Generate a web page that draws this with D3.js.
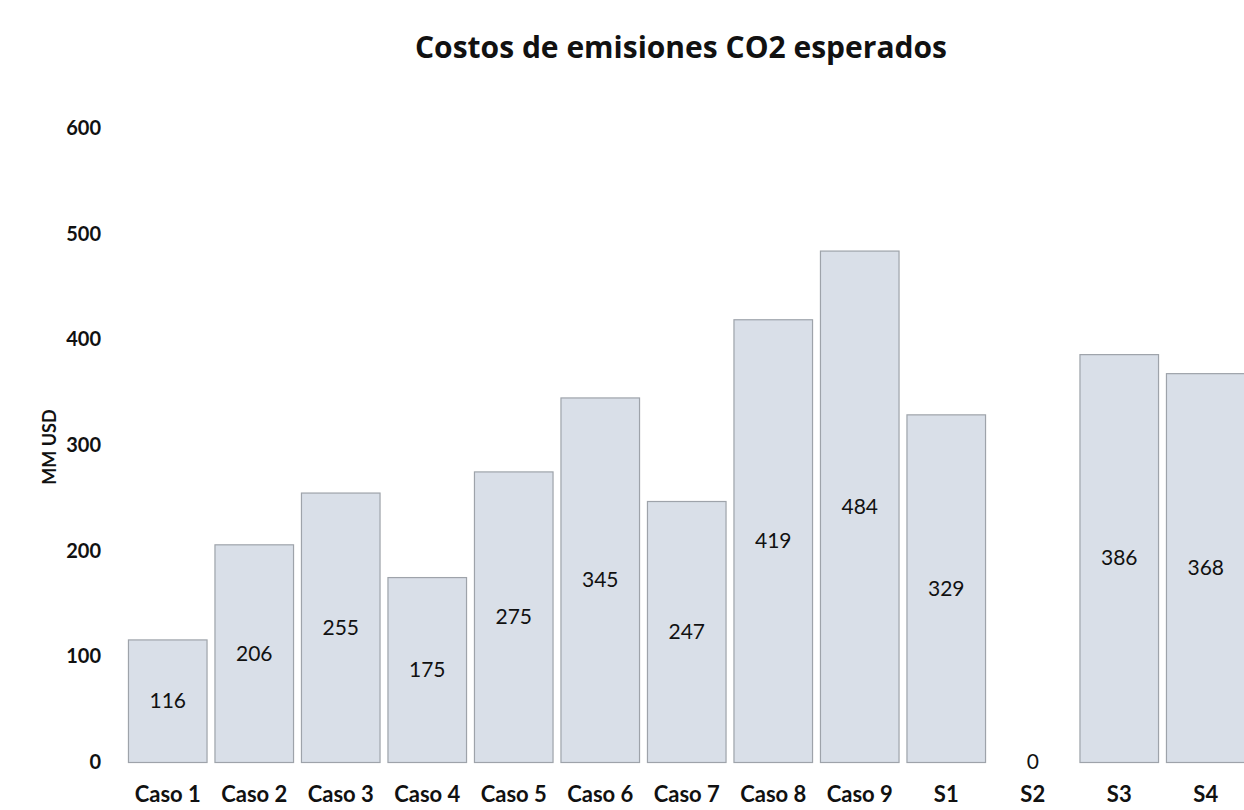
<!DOCTYPE html>
<html>
<head>
<meta charset="utf-8">
<script src="https://cdn.jsdelivr.net/npm/d3@7"></script>
<style>
  html, body { margin: 0; padding: 0; background: #ffffff; }
  svg { display: block; }
  text { font-family: Lato, "Open Sans", "DejaVu Sans", sans-serif; fill: #111; }
</style>
</head>
<body>
<svg id="chart" width="1244" height="810"></svg>
<script>
// Expected CO2 emission costs per case (MM USD)
const categories = ["Caso 1", "Caso 2", "Caso 3", "Caso 4", "Caso 5", "Caso 6", "Caso 7",
                    "Caso 8", "Caso 9", "S1", "S2", "S3", "S4"];
const values = [116, 206, 255, 175, 275, 345, 247, 419, 484, 329, 0, 386, 368];
const yTicks = [0, 100, 200, 300, 400, 500, 600];
const titleText = "Costos de emisiones CO2 esperados";
const yAxisTitle = "MM USD";

const data = categories.map((c, i) => ({ cat: c, val: values[i] }));

const svg = d3.select("#chart");

const x = d3.scaleBand()
  .domain(categories)
  .range([124.5, 1249])
  .paddingInner(0.08)
  .paddingOuter(0.04);

const y = d3.scaleLinear()
  .domain([0, 600])
  .range([762, 128]);

// Title
svg.append("text")
  .attr("x", 681)
  .attr("y", 58)
  .attr("text-anchor", "middle")
  .attr("font-size", 30)
  .attr("font-weight", "bold")
  .style("font-family", "'Open Sans', Lato, sans-serif")
  .text(titleText);

// Y axis: tick labels only, no line or tick marks
const yAxis = d3.axisLeft(y).tickValues(yTicks).tickSize(0).tickPadding(0);
const gy = svg.append("g")
  .attr("transform", "translate(101,0)")
  .call(yAxis);
gy.select(".domain").remove();
gy.selectAll("text")
  .attr("font-size", 20)
  .attr("font-weight", "bold")
  .attr("fill", "#111")
  .style("font-family", "Lato, 'Open Sans', sans-serif");

// Y axis title
svg.append("text")
  .attr("transform", "translate(56,447) rotate(-90)")
  .attr("text-anchor", "middle")
  .attr("font-size", 18)
  .attr("font-weight", "bold")
  .text(yAxisTitle);

// X axis: category labels only
const xAxis = d3.axisBottom(x).tickSize(0).tickPadding(0);
const gx = svg.append("g")
  .attr("transform", "translate(0,786)")
  .call(xAxis);
gx.select(".domain").remove();
gx.selectAll("text")
  .attr("font-size", 22)
  .attr("font-weight", "bold")
  .attr("fill", "#111")
  .attr("dy", "0.71em")
  .style("font-family", "Lato, 'Open Sans', sans-serif");

// Bars
svg.append("g")
  .selectAll("rect")
  .data(data)
  .join("rect")
  .attr("x", d => x(d.cat) + 0.5)
  .attr("y", d => y(d.val) + 0.5)
  .attr("width", x.bandwidth() - 1)
  .attr("height", d => Math.max(0, y(0) - y(d.val)))
  .attr("fill", d => d.val > 0 ? "#d9dfe8" : "none")
  .attr("stroke", d => d.val > 0 ? "#9ea3aa" : "none")
  .attr("stroke-width", 1.2);

// Value labels, centred inside each bar
svg.append("g")
  .selectAll("text")
  .data(data)
  .join("text")
  .attr("x", d => x(d.cat) + x.bandwidth() / 2)
  .attr("y", d => (y(d.val) + y(0)) / 2)
  .attr("dy", "0.35em")
  .attr("text-anchor", "middle")
  .attr("font-size", 21)
  .attr("fill", "#222")
  .text(d => d.val);
</script>
</body>
</html>
